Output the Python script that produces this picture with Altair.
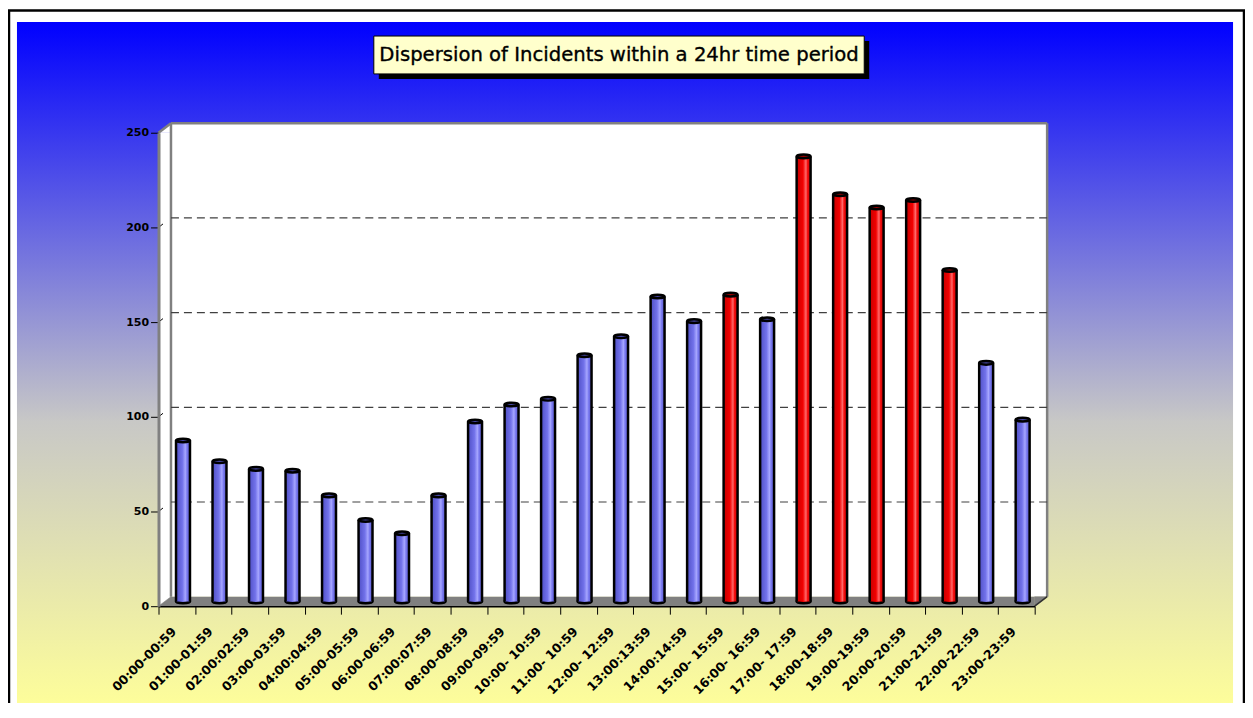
import altair as alt
import pandas as pd

# ---------------- data ----------------
labels = ["00:00-00:59", "01:00-01:59", "02:00:02:59", "03:00-03:59", "04:00:04:59",
          "05:00-05:59", "06:00-06:59", "07:00:07:59", "08:00-08:59", "09:00-09:59",
          "10:00- 10:59", "11:00- 10:59", "12:00- 12:59", "13:00:13:59", "14:00:14:59",
          "15:00- 15:59", "16:00- 16:59", "17:00- 17:59", "18:00-18:59", "19:00-19:59",
          "20:00-20:59", "21:00-21:59", "22:00-22:59", "23:00-23:59"]
values = [85, 74, 70, 69, 56, 43, 36, 56, 95, 104, 107, 130,
          140, 161, 148, 162, 149, 235, 215, 208, 212, 175, 126, 96]
peak = [0, 0, 0, 0, 0, 0, 0, 0, 0, 0, 0, 0,
        0, 0, 0, 1, 0, 1, 1, 1, 1, 1, 0, 0]
y_ticks = [0, 50, 100, 150, 200, 250]
grid_vals = [50, 100, 150, 200]
title_text = "Dispersion of Incidents within a 24hr time period"

df = pd.DataFrame({"label": labels, "value": values, "peak": peak})
grid_df = pd.DataFrame({"value": grid_vals})
one = pd.DataFrame({"k": [0]})

# ---------------- geometry ----------------
W, H = 879, 475
PL, PT, PR, PB = 151, 124, 211, 96
DX, DY = 12.5, -9.5
GRAY = "#808080"

def grad_h(stops):
    return alt.LinearGradient(gradient="linear", x1=0, x2=1, y1=0, y2=0,
                              stops=[alt.GradientStop(color=c, offset=o) for o, c in stops])

bg_grad = alt.LinearGradient(gradient="linear", x1=0, x2=0, y1=0, y2=1,
                             stops=[alt.GradientStop(color="#0000ff", offset=0),
                                    alt.GradientStop(color="#c8c8c6", offset=0.58),
                                    alt.GradientStop(color="#ffff99", offset=1)])
blue_grad = grad_h([(0, "#5252c8"), (0.45, "#7272ea"), (0.68, "#a6a6ff"), (0.8, "#7c7cf0"), (1, "#5a5ad0")])
red_grad = grad_h([(0, "#c80000"), (0.45, "#f20000"), (0.68, "#ff6a6a"), (0.8, "#f41010"), (1, "#cc0000")])

xscale = alt.Scale(type="band", paddingInner=0, paddingOuter=0, domain=labels)
yscale = alt.Scale(domain=[0, 250], nice=False, zero=True)

xaxis = alt.Axis(title=None, labelAngle=-45, labelFont="DejaVu Sans", labelFontWeight="bold",
                 labelFontSize=12.5, labelColor="black", tickColor="black", tickSize=8,
                 tickWidth=1, domainColor="black", domainWidth=1.5, tickBand="extent",
                 labelPadding=15, labelOffset=-3, labelAlign="right", labelBaseline="middle",
                 labelOverlap=False, labelLimit=300, grid=False, zindex=1)
yaxis = alt.Axis(title=None, values=y_ticks, labelFont="DejaVu Sans", labelFontWeight="bold",
                 labelFontSize=11, labelColor="black", tickColor="black", tickSize=8,
                 tickWidth=1, domainColor=GRAY, domainWidth=3, labelPadding=2,
                 grid=False, zindex=1)

X = alt.X("label:N", scale=xscale, axis=xaxis, sort=labels)
Y = alt.Y("value:Q", scale=yscale, axis=yaxis)

dec = alt.Chart(one)

def box(x1, x2, y1, y2, **kw):
    return dec.mark_rect(**kw).encode(x=alt.value(x1), x2=alt.value(x2),
                                      y=alt.value(y1), y2=alt.value(y2))

def line(x1, y1, x2, y2, color=GRAY, width=2.5):
    return dec.mark_rule(stroke=color, strokeWidth=width).encode(
        x=alt.value(x1), x2=alt.value(x2), y=alt.value(y1), y2=alt.value(y2))

TRI_A = "M -1 0.76 L 1 -0.76 L 1 0.76 Z"
TRI_B = "M -1 0.76 L 1 -0.76 L -1 -0.76 Z"
ELL = "M -1 0 A 1 0.26 0 1 0 1 0 A 1 0.26 0 1 0 -1 0 Z"

def tri(shape, cx, cy, color):
    return dec.mark_point(shape=shape, size=DX * DX, filled=True, fill=color, stroke=color,
                          strokeWidth=0.6, opacity=1).encode(x=alt.value(cx), y=alt.value(cy))

layers = [
    box(-142, 1078, -111, 581, fill=bg_grad),
    box(-150, 1089, -122.5, 600, fillOpacity=0, stroke="black", strokeWidth=2.5),
    box(221, 713, -92, -54, fill="black"),
    box(216, 708, -97, -59, fill="#ffffcc", stroke="black", strokeWidth=1),
    dec.mark_text(text=title_text, font="DejaVu Sans", fontSize=19.7, align="center",
                  baseline="middle", color="black", stroke="black", strokeWidth=0.35).encode(
        x=alt.value(462), y=alt.value(-78)),
    # 3D box
    box(DX, W + DX, DY, H + DY, fill="white"),
    box(0, DX, 0, H, fill="white"),
    tri(TRI_A, DX / 2, DY / 2, "white"),
    box(DX, W, H + DY, H, fill=GRAY),
    tri(TRI_A, DX / 2, H + DY / 2, GRAY),
    tri(TRI_B, W + DX / 2, H + DY / 2, GRAY),
    line(DX, DY, DX, H + DY),
    line(DX, DY, W + DX, DY),
    line(W + DX, DY, W + DX, H + DY),
    line(0, 0, DX, DY),
    line(W, H, W + DX, H + DY, color="#303030", width=1.5),
    # gridlines on back wall
    alt.Chart(grid_df).mark_rule(stroke="#404040", strokeWidth=1.2, strokeDash=[8, 5],
                                 yOffset=DY).encode(y=Y, x=alt.value(DX), x2=alt.value(W + DX)),
    # small diagonal ticks on side wall
    alt.Chart(grid_df).mark_rule(stroke="black", strokeWidth=1, y2Offset=-3.5).encode(
        y=Y, y2=alt.Y2("value"), x=alt.value(0), x2=alt.value(4.5)),
]

OX, OY = DX / 2, DY / 2
for flag, body_grad, mid, top in [(0, blue_grad, "#7070e6", "#4848a8"),
                                  (1, red_grad, "#ee0000", "#a00000")]:
    sub = alt.Chart(df).transform_filter(alt.datum.peak == flag)
    layers += [
        sub.mark_point(shape=ELL, size=196, filled=True, fill=mid, stroke="black",
                       strokeWidth=2.5, opacity=1, xOffset=OX, yOffset=OY).encode(
            x=X, y=alt.datum(0)),
        sub.mark_bar(fill=body_grad, size=13, xOffset=OX, yOffset=OY, y2Offset=OY).encode(x=X, y=Y),
        sub.mark_rule(stroke="black", strokeWidth=2.5, xOffset=OX - 7, yOffset=OY,
                      y2Offset=OY).encode(x=X, y=Y, y2=alt.datum(0)),
        sub.mark_rule(stroke="black", strokeWidth=2.5, xOffset=OX + 7, yOffset=OY,
                      y2Offset=OY).encode(x=X, y=Y, y2=alt.datum(0)),
        sub.mark_point(shape=ELL, size=196, filled=True, fill=top, stroke="black",
                       strokeWidth=2.5, opacity=1, xOffset=OX, yOffset=OY).encode(x=X, y=Y),
    ]

chart = alt.layer(*layers).properties(
    width=W, height=H,
    padding={"left": PL, "top": PT, "right": PR, "bottom": PB},
    autosize=alt.AutoSizeParams(type="none"),
    background="white",
).configure_view(strokeWidth=0)

chart.save("out.html", embed_options={"renderer": "svg", "actions": False})
